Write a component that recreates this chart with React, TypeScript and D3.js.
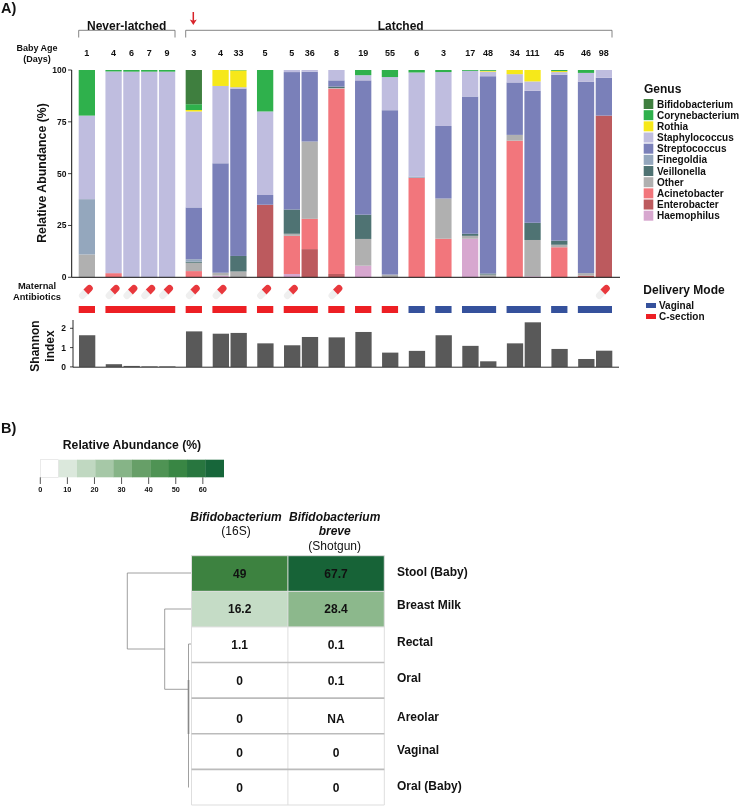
import React from "react";
import * as d3 from "d3";

const FONT = "'Liberation Sans', Arial, sans-serif";
const genera = ["Haemophilus","Enterobacter","Acinetobacter","Other","Veillonella","Finegoldia","Streptococcus","Staphylococcus","Rothia","Corynebacterium","Bifidobacterium"];
const legendGenera = ["Bifidobacterium","Corynebacterium","Rothia","Staphylococcus","Streptococcus","Finegoldia","Veillonella","Other","Acinetobacter","Enterobacter","Haemophilus"];
const genusColors = ["#d7a7cf","#bc5a5e","#f2767c","#b0b0b0","#4f7373","#94a7bd","#7a80b9","#bfbddf","#f6e81a","#2fb14c","#3f7f3f"];

const ages = [1,4,6,7,9,3,4,33,5,5,36,8,19,55,6,3,17,48,34,111,45,46,98];
const sampleGroups = [0,1,1,1,1,2,3,3,4,5,5,6,7,8,9,10,11,11,12,12,13,14,14];
const shannon = [1.64,0.14,0.05,0.03,0.03,1.84,1.72,1.76,1.22,1.12,1.55,1.53,1.81,0.74,0.83,1.64,1.09,0.29,1.22,2.31,0.93,0.41,0.84];
const antibioticIdx = [0,1,2,3,4,5,6,8,9,11,22];
const deliveryByGroup = ["C","C","C","C","C","C","C","C","C","V","V","V","V","V","V"];

const abundance: number[][] = [
  [0,0,0,11,0,26.7,0,40.3,0,22,0],
  [0,0,2,0,0,0,0,97.3,0,0.7,0],
  [0,0,0,0,0,0,0,99.2,0,0.8,0],
  [0,0,0,0,0,0,0,99.2,0,0.8,0],
  [0,0,0,0,0,0,0,99.2,0,0.8,0],
  [0,0,3,4,0.5,1.2,25,46.3,0.7,2.8,16.5],
  [0.8,0,0,1.4,0,0,52.8,37.3,7.7,0,0],
  [0,0,0,2.8,7.5,0,80.7,0.7,8.1,0.2,0],
  [0,35,0,0,0,0,4.7,40.3,0,20,0],
  [1.6,0,18.4,1,11.7,0,66.3,1,0,0,0],
  [0,13.6,14.6,37.3,0,0,33.7,0.8,0,0,0],
  [0,1.6,89.4,0.3,0.7,0,3,5,0,0,0],
  [5.6,0,0,12.9,11.7,0,64.8,2.5,0,2.5,0],
  [0,0,0,1.3,0,0,79.3,16,0,3.4,0],
  [0,0,48,0,0,0.6,0,50.2,0,1.2,0],
  [0,0,18.6,19.4,0,0,35,26,0,1,0],
  [18.6,0,0,1.4,1,0,66.2,12.4,0,0.4,0],
  [0,0,0,1.3,0.5,0,95.2,2.2,0.4,0.4,0],
  [0,0,65.9,2.8,0,0,25.3,4,2,0,0],
  [0.5,0,0,17.5,8.3,0,63.7,4.5,5.5,0,0],
  [0,0,14.5,1.2,2,0,80,1.3,0.5,0.5,0],
  [0,0.8,0,1.2,0,0,92.4,4.2,0,1.4,0],
  [0,78,0,0,0,0,18.3,3.7,0,0,0],
];

const yTicks = [0,25,50,75,100];
const shannonTicks = [0,1,2];
const heatRows = ["Stool (Baby)","Breast Milk","Rectal","Oral","Areolar","Vaginal","Oral (Baby)"];
const heatCol1 = [49,16.2,1.1,0,0,0,0];
const heatCol2: (number|null)[] = [67.7,28.4,0.1,0.1,null,0,0];
const heatLabel1 = ["49","16.2","1.1","0","0","0","0"];
const heatLabel2 = ["67.7","28.4","0.1","0.1","NA","0","0"];
const colorBarTicks = [0,10,20,30,40,50,60];
const colorBarBins = 10;

const H = { x0: 78.7, x1: 595.7, barW: 16.3, yTop: 70, yBot: 277.3 };
const rowLabelNudge = [-1.8,-3.7,-2.7,-2,0.7,-1.6,-1.3];
const valueNudge = [0.5,-0.3,0.6,1,3.3,1.1,1.3];

function slots(groups: number[]) {
  const out: number[] = [];
  let u = 0;
  groups.forEach((g, i) => {
    if (i > 0) u += g === groups[i - 1] ? 1 : 1.5;
    out.push(u);
  });
  return out;
}
const slotPos = slots(sampleGroups);
const x = d3.scaleLinear().domain([0, slotPos[slotPos.length - 1]]).range([H.x0, H.x1]);
const y = d3.scaleLinear().domain([0, 100]).range([H.yBot, H.yTop]);
const yS = d3.scaleLinear().domain([0, 2]).range([366.9, 328.3]);
const color = d3.scaleOrdinal<string, string>().domain(genera).range(genusColors);
const stack = d3.stack<number[]>().keys(genera.map((_, i) => String(i)) as any).value((d: number[], k: any) => d[+k]);
const stacked = stack(abundance);

const greens = d3.scaleLinear<string>().domain([0, 0.11, 0.33, 0.55, 0.75, 1]).range(["#ffffff","#dbe8dc","#a7c9a8","#68a069","#3d8a45","#17663a"]);
const heatColor = d3.scaleLinear<string>().domain([0,1.1,16.2,28.4,49,67.7]).range(["#ffffff","#ffffff","#c5dcc6","#8cb88c","#3d8240","#176337"]);
const cbScale = d3.scaleLinear().domain([0, 67.7]).range([40.3, 223.7]);

const rowEdge = d3.scaleLinear().domain([0, 7]).range([555.7, 805]);
const colEdge = d3.scaleLinear().domain([0, 2]).range([191.5, 384.3]);

const Txt = ({ x, y, s = 8, w = "bold", a = "middle", st, children, rot }: any) => (
  <text x={x} y={y} fontSize={s} fontWeight={w} fontStyle={st} textAnchor={a} dominantBaseline="central" fontFamily={FONT} fill="#111"
    transform={rot ? `rotate(${rot} ${x} ${y})` : undefined}>{children}</text>
);

const Pill = ({ cx, cy }: { cx: number; cy: number }) => (
  <g transform={`translate(${cx} ${cy}) rotate(-45)`}>
    <path d="M0,-3.4 H-5 A3.4,3.4 0 0 0 -5,3.4 H0 Z" fill="#efefef" />
    <path d="M0,-3.4 H5 A3.4,3.4 0 0 1 5,3.4 H0 Z" fill="#e8383d" />
  </g>
);

export default function App() {
  const groupIds = Array.from(new Set(sampleGroups));
  const heat = heatRows.map((r, i) => ({ r, i }));
  return (
    <svg width={740} height={806} style={{ position: "absolute", left: 0, top: 0, background: "#fff", filter: "blur(0.35px)" }}>
      <Txt x={1} y={8} s={14.5} a="start">A)</Txt>
      <Txt x={1} y={428} s={14.5} a="start">B)</Txt>

      {/* brackets */}
      <path d="M78.7,37.5 V30.3 H175 V37.5" fill="none" stroke="#666" strokeWidth={0.8} />
      <path d="M185.7,37.5 V30.3 H612 V37.5" fill="none" stroke="#666" strokeWidth={0.8} />
      <Txt x={126.7} y={26} s={12}>Never-latched</Txt>
      <Txt x={400.7} y={26} s={12}>Latched</Txt>
      <path d="M193.3,12 V21" stroke="#d8232a" strokeWidth={1.5} />
      <path d="M189.8,19.5 L193.3,25 L196.8,19.5 L193.3,20.8 Z" fill="#d8232a" />

      <Txt x={37} y={47.7} s={9}>Baby Age</Txt>
      <Txt x={37} y={58.7} s={9}>(Days)</Txt>
      {ages.map((a, i) => <Txt key={i} x={x(slotPos[i]) + H.barW / 2} y={52.7} s={9}>{a}</Txt>)}

      {/* stacked bars */}
      {stacked.map((layer, k) => (
        <g key={k} fill={color(genera[k])}>
          {layer.map((d, i) => d[1] - d[0] > 0 ? (
            <rect key={i} x={x(slotPos[i])} width={H.barW} y={y(d[1])} height={y(d[0]) - y(d[1])} />
          ) : null)}
        </g>
      ))}
      <path d={`M71.7,${H.yTop} V${H.yBot} H620`} fill="none" stroke="#111" strokeWidth={1} />
      {yTicks.map(t => (
        <g key={t}>
          <line x1={68} x2={71.7} y1={y(t)} y2={y(t)} stroke="#111" strokeWidth={0.8} />
          <Txt x={66.5} y={y(t)} a="end" s={8.5}>{t}</Txt>
        </g>
      ))}
      <Txt x={41.5} y={173} s={12.3} rot={-90}>Relative Abundance (%)</Txt>

      {/* antibiotics */}
      <Txt x={37} y={286} s={9.3}>Maternal</Txt>
      <Txt x={37} y={297} s={9.3}>Antibiotics</Txt>
      {antibioticIdx.map(i => <Pill key={i} cx={x(slotPos[i]) + H.barW / 2 - 1} cy={292} />)}

      {/* delivery bars */}
      {groupIds.map((g, n) => {
        const idx = sampleGroups.map((v, i) => (v === g ? i : -1)).filter(i => i >= 0);
        const a = x(slotPos[idx[0]]);
        const b = x(slotPos[idx[idx.length - 1]]) + H.barW;
        return <rect key={g} x={a} y={306} width={b - a} height={7} fill={deliveryByGroup[n] === "C" ? "#ed1f24" : "#35519c"} />;
      })}

      {/* Shannon */}
      {shannon.map((v, i) => (
        <rect key={i} x={x(slotPos[i]) + 0.3} width={H.barW} y={yS(v)} height={yS(0) - yS(v)} fill="#595959" />
      ))}
      <path d="M73,320 V367.2 H619" fill="none" stroke="#111" strokeWidth={0.9} />
      {shannonTicks.map(t => (
        <g key={t}>
          <line x1={70} x2={73} y1={yS(t)} y2={yS(t)} stroke="#111" strokeWidth={0.8} />
          <Txt x={66} y={yS(t)} a="end" s={8.5}>{t}</Txt>
        </g>
      ))}
      <Txt x={35} y={346} s={12} rot={-90}>Shannon</Txt>
      <Txt x={50} y={346} s={12} rot={-90}>index</Txt>

      {/* Genus legend */}
      <Txt x={644} y={89} s={12} a="start">Genus</Txt>
      {legendGenera.map((g, i) => (
        <g key={g}>
          <rect x={643.7} y={99 + i * 11.17} width={9.6} height={10} fill={color(g)} />
          <Txt x={657} y={104 + i * 11.17} s={10} a="start">{g}</Txt>
        </g>
      ))}

      {/* Delivery legend */}
      <Txt x={643.3} y={290.3} s={12} a="start">Delivery Mode</Txt>
      <rect x={646} y={303} width={10} height={5} fill="#35519c" />
      <rect x={646} y={314} width={10} height={5} fill="#ed1f24" />
      <Txt x={659} y={305} s={10} a="start">Vaginal</Txt>
      <Txt x={659} y={316} s={10} a="start">C-section</Txt>

      {/* colour bar */}
      <Txt x={132} y={445} s={12.2}>Relative Abundance (%)</Txt>
      {d3.range(colorBarBins).map(i => {
        const step = 67.7 / colorBarBins;
        return <rect key={i} x={cbScale(i * step)} y={459.7} width={cbScale(step) - cbScale(0) + 0.3} height={17.6} fill={greens(i / (colorBarBins - 1))} />;
      })}
      <rect x={40.3} y={459.7} width={18.3} height={17.6} fill="none" stroke="#ddd" strokeWidth={0.6} />
      {colorBarTicks.map(t => (
        <g key={t}>
          <line x1={cbScale(t)} x2={cbScale(t)} y1={477.3} y2={484} stroke="#444" strokeWidth={0.9} />
          <Txt x={cbScale(t)} y={489.7} s={7.3}>{t}</Txt>
        </g>
      ))}

      {/* heatmap */}
      <Txt x={236} y={516.7} s={12} st="italic">Bifidobacterium</Txt>
      <Txt x={236} y={531} s={12} w="normal">(16S)</Txt>
      <Txt x={334.7} y={516.7} s={12} st="italic">Bifidobacterium</Txt>
      <Txt x={334.7} y={531} s={12} st="italic">breve</Txt>
      <Txt x={334.7} y={546} s={12} w="normal">(Shotgun)</Txt>

      {heat.map(({ r, i }) => {
        const top = rowEdge(i), bot = rowEdge(i + 1);
        const mid = (top + bot) / 2;
        return (
          <g key={r}>
            <rect x={colEdge(0)} y={top} width={colEdge(1) - colEdge(0)} height={bot - top} fill={heatColor(heatCol1[i])} />
            <rect x={colEdge(1)} y={top} width={colEdge(2) - colEdge(1)} height={bot - top} fill={heatCol2[i] == null ? "#fff" : heatColor(heatCol2[i] as number)} />
            <Txt x={239.7} y={mid + valueNudge[i]} s={12}>{heatLabel1[i]}</Txt>
            <Txt x={336} y={mid + valueNudge[i]} s={12}>{heatLabel2[i]}</Txt>
            <Txt x={397} y={mid + rowLabelNudge[i]} s={12} a="start">{r}</Txt>
          </g>
        );
      })}
      {d3.range(3).map(i => (
        <line key={i} x1={colEdge(i)} x2={colEdge(i)} y1={rowEdge(0)} y2={rowEdge(7)} stroke="#dedede" strokeWidth={1} />
      ))}
      {d3.range(0, 8).map(i => (
        <line key={i} x1={colEdge(0)} x2={colEdge(2)} y1={rowEdge(i)} y2={rowEdge(i)} stroke={i < 3 || i === 7 ? "#dddddd" : "#bbbbbb"} strokeWidth={i < 3 || i === 7 ? 1 : 1.6} />
      ))}

      {/* dendrogram */}
      <g fill="none" stroke="#888" strokeWidth={0.8}>
        <path d="M191,573 H127.3 V649 H164.7" />
        <path d="M191,609 H164.7 V689.3 H188.5" />
        <path d="M191,644 H188.5 V787.5" />
        <path d="M188.5,680 V734" strokeWidth={1.6} />
      </g>
    </svg>
  );
}
